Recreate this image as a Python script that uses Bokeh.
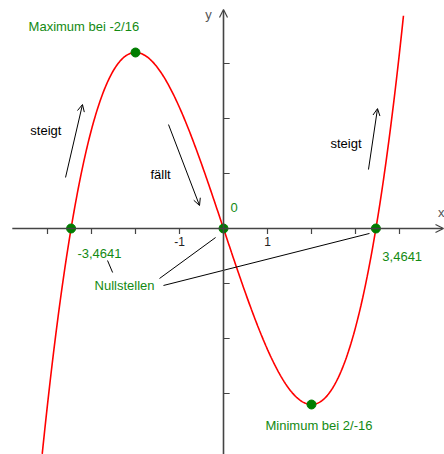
import numpy as np
from bokeh.plotting import figure
from bokeh.models import Range1d, Arrow, OpenHead
from bokeh.core.properties import value
from bokeh.embed import file_html
from bokeh.resources import INLINE

# f(x) = x^3 - 12x  (Maximum bei -2/16, Minimum bei 2/-16, Nullstellen 0, ±3,4641)
coeffs = [1, 0, -12, 0]
x_start, x_end = -4.12, 4.09

point_x = [-3.4641, 0.0, 3.4641, -2.0, 2.0]
point_y = [0.0, 0.0, 0.0, 16.0, -16.0]

x_ticks = [-4, -3, -2, -1, 1, 2, 3, 4]
x_tick_labels = {-1: "-1", 1: "1"}
y_ticks = [-15, -10, -5, 5, 10, 15]

green_labels = ["Maximum bei -2/16", "Minimum bei 2/-16", "-3,4641", "Nullstellen", "3,4641", "0"]
green_lx = [-4.43, 0.955, -3.32, -2.93, 3.61, 0.16]
green_ly = [18.36, -17.9, -2.27, -5.18, -2.55, 1.91]

black_labels = ["steigt", "fällt", "steigt"]
black_lx = [-4.39, -1.66, 2.43]
black_ly = [8.91, 4.91, 7.73]

# trend arrows: (x0, y0, x1, y1)
trend_arrows = [(-3.59, 4.64, -3.205, 11.27),
                (-1.25, 9.45, -0.545, 2.09),
                (3.295, 5.36, 3.5, 10.9)]

# pointer lines from the labels to the zeros
pointer_lines = [(-2.636, -2.91, -2.52, -4.0),
                 (-1.4545, -4.545, -0.18, -0.82),
                 (-1.364, -5.18, 3.318, -0.45)]

px_per_x, px_per_y = 44.0, 11.0
W, H = 444, 454
ox, oy = 223, 228

p = figure(width=W, height=H, output_backend="svg", toolbar_location=None,
           x_range=Range1d(-ox / px_per_x, (W - ox) / px_per_x),
           y_range=Range1d(-(H - oy) / px_per_y, oy / px_per_y),
           x_axis_location=None, y_axis_location=None, min_border=0)
p.grid.visible = False
p.outline_line_color = None
p.background_fill_color = "white"

axis_col = "#444444"
# coordinate axes with open arrow heads
p.add_layout(Arrow(end=OpenHead(size=8, line_color=axis_col, line_width=1.2),
                   x_start=-4.8, y_start=0, x_end=5.0, y_end=0,
                   line_color=axis_col, line_width=1.6))
p.add_layout(Arrow(end=OpenHead(size=8, line_color=axis_col, line_width=1.2),
                   x_start=0, y_start=-20.6, x_end=0, y_end=19.9,
                   line_color=axis_col, line_width=1.6))

# tick marks
p.segment(x0=x_ticks, y0=[0] * len(x_ticks), x1=x_ticks, y1=[-0.5] * len(x_ticks),
          line_color=axis_col, line_width=1.2)
p.segment(x0=[0] * len(y_ticks), y0=y_ticks, x1=[0.14] * len(y_ticks), y1=y_ticks,
          line_color=axis_col, line_width=1.2)
p.text(x=list(x_tick_labels.keys()), y=[-1.18, -1.18], text=list(x_tick_labels.values()),
       text_font=value("Liberation Sans"), text_font_size="12px", text_color="#222222",
       text_align="center", text_baseline="middle")
p.text(x=[4.95, -0.34], y=[1.41, 19.5], text=["x", "y"],
       text_font=value("Liberation Sans"), text_font_size="13px", text_color="#555555",
       text_align="center", text_baseline="middle")

# function graph
xs = np.linspace(x_start, x_end, 400)
ys = np.polyval(coeffs, xs)
p.line(xs, ys, line_color="red", line_width=1.6)

# pointer lines
for (x0, y0, x1, y1) in pointer_lines:
    p.segment(x0=[x0], y0=[y0], x1=[x1], y1=[y1], line_color="black", line_width=1)

# trend arrows
for (x0, y0, x1, y1) in trend_arrows:
    p.add_layout(Arrow(end=OpenHead(size=7, line_color="black", line_width=1),
                       x_start=x0, y_start=y0, x_end=x1, y_end=y1,
                       line_color="black", line_width=1))

p.scatter(point_x, point_y, size=9, fill_color="#007d00", line_color="#007d00")

p.text(x=green_lx, y=green_ly, text=green_labels,
       text_font=value("Liberation Sans"), text_font_size="13px", text_color="#138a13",
       text_align="left", text_baseline="middle")
p.text(x=black_lx, y=black_ly, text=black_labels,
       text_font=value("Liberation Sans"), text_font_size="13px", text_color="black",
       text_align="left", text_baseline="middle")

open("out.html", "w").write(file_html(p, INLINE))
